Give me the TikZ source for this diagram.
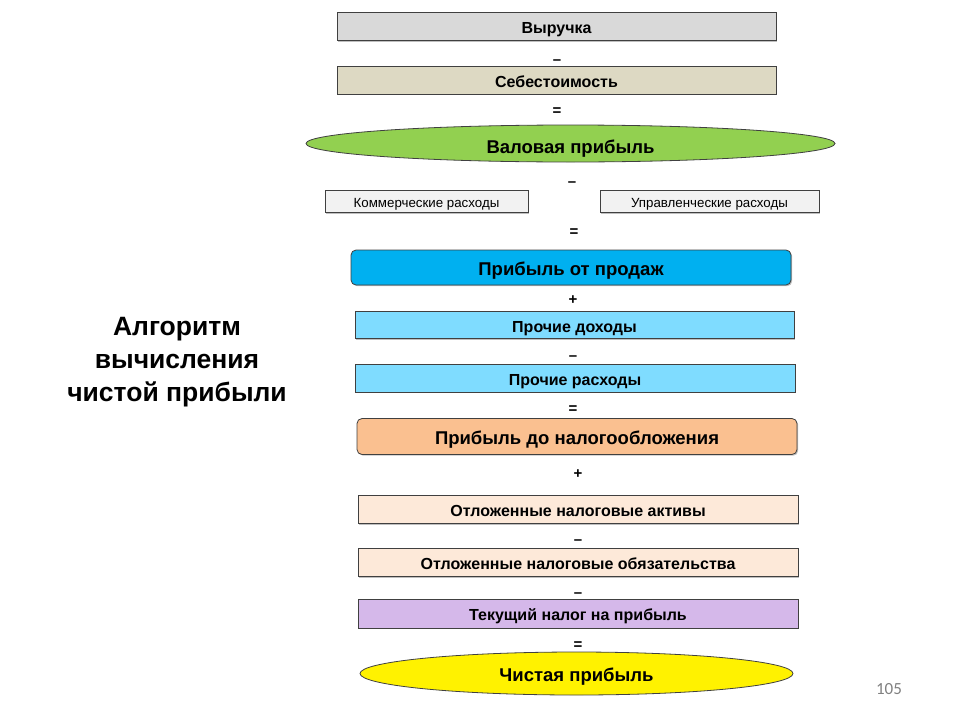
\documentclass[tikz,border=0pt]{standalone}
\usepackage{fontspec}
\setmainfont{Liberation Sans}
\newfontfamily\pagefont{Carlito}
\usetikzlibrary{shapes.geometric, shadows}
\definecolor{revgray}{HTML}{D9D9D9}
\definecolor{costbeige}{HTML}{DDD9C3}
\definecolor{grossgreen}{HTML}{92D050}
\definecolor{expgray}{HTML}{F2F2F2}
\definecolor{salesblue}{HTML}{00B0F0}
\definecolor{othercyan}{HTML}{7FDCFF}
\definecolor{pretaxorange}{HTML}{FAC090}
\definecolor{defpeach}{HTML}{FDE9D9}
\definecolor{taxlilac}{HTML}{D5B8EA}
\definecolor{bordergray}{HTML}{404040}
\tikzset{box/.style={draw=bordergray, line width=0.8pt, inner sep=0pt,
    minimum width=440, minimum height=28, text height=14.4pt, text depth=0pt,
    font=\fontsize{16}{18}\selectfont\bfseries,
    drop shadow={shadow xshift=1.2pt, shadow yshift=-1.2pt, opacity=0.5}}}
\tikzset{bigbox/.style={box, rounded corners=5pt, minimum height=35,
    text height=15.2pt, font=\fontsize{18.5}{21}\selectfont\bfseries}}
\tikzset{oval/.style={ellipse, draw=bordergray, line width=0.8pt, inner sep=0pt,
    text height=16.2pt, text depth=0pt,
    font=\fontsize{18.5}{21}\selectfont\bfseries}}
\tikzset{smallbox/.style={box, minimum height=22, text height=11.6pt,
    font=\fontsize{13.3}{15}\selectfont}}
\tikzset{op/.style={inner sep=0pt, text height=9pt, text depth=0pt,
    font=\fontsize{15}{17}\selectfont\bfseries}}

\begin{document}
\begin{tikzpicture}[x=1pt, y=-1pt]
\useasboundingbox (0,0) rectangle (960,720);

\node[box, fill=revgray, minimum width=439] (rev) at (556.5,26.5) {Выручка};
\node[op] (m1) at (557,60) {–};
\node[box, fill=costbeige, minimum width=439] (cost) at (556.5,80) {Себестоимость};
\node[op] (e1) at (557,111) {=};
\node[oval, fill=grossgreen, minimum width=529, minimum height=37, text height=19pt] (gross) at (570.5,143.5) {Валовая прибыль};

\node[op] (m2) at (572,182) {–};
\node[smallbox, fill=expgray, minimum width=203] (comm) at (426.5,201.5) {Коммерческие расходы};
\node[smallbox, fill=expgray, minimum width=219] (adm) at (709.5,201.5) {Управленческие расходы};
\node[op] (e2) at (574,232) {=};
\node[bigbox, fill=salesblue] (sales) at (571,267.5) {Прибыль от продаж};

\node[op] (p1) at (573,300) {+};
\node[box, fill=othercyan, minimum width=439, minimum height=27] (inc) at (574.5,325) {Прочие доходы};
\node[op] (m3) at (573,356) {–};
\node[box, fill=othercyan] (exp) at (575,378) {Прочие расходы};
\node[op] (e3) at (573,408.5) {=};
\node[bigbox, fill=pretaxorange, minimum height=36] (pretax) at (577,436.5) {Прибыль до налогообложения};

\node[op] (p2) at (578,473.5) {+};
\node[box, fill=defpeach, minimum height=28] (dta) at (578,509.5) {Отложенные налоговые активы};
\node[op] (m4) at (578,540) {–};
\node[box, fill=defpeach, minimum height=28] (dtl) at (578,562.5) {Отложенные налоговые обязательства};
\node[op] (m5) at (578,593) {–};
\node[box, fill=taxlilac, minimum height=29] (tax) at (578,613.5) {Текущий налог на прибыль};
\node[op] (e4) at (578,645) {=};
\node[oval, fill=yellow, minimum width=433, minimum height=43] (net) at (576.5,673.5) {Чистая прибыль};

\node[align=center, font=\fontsize{26.5}{33}\selectfont\bfseries] (title) at (177,362.5)
  {Алгоритм\\вычисления\\чистой прибыли};
\node[text=gray, font=\pagefont\fontsize{17}{19}\selectfont] (page) at (889,689) {105};
\end{tikzpicture}
\end{document}
